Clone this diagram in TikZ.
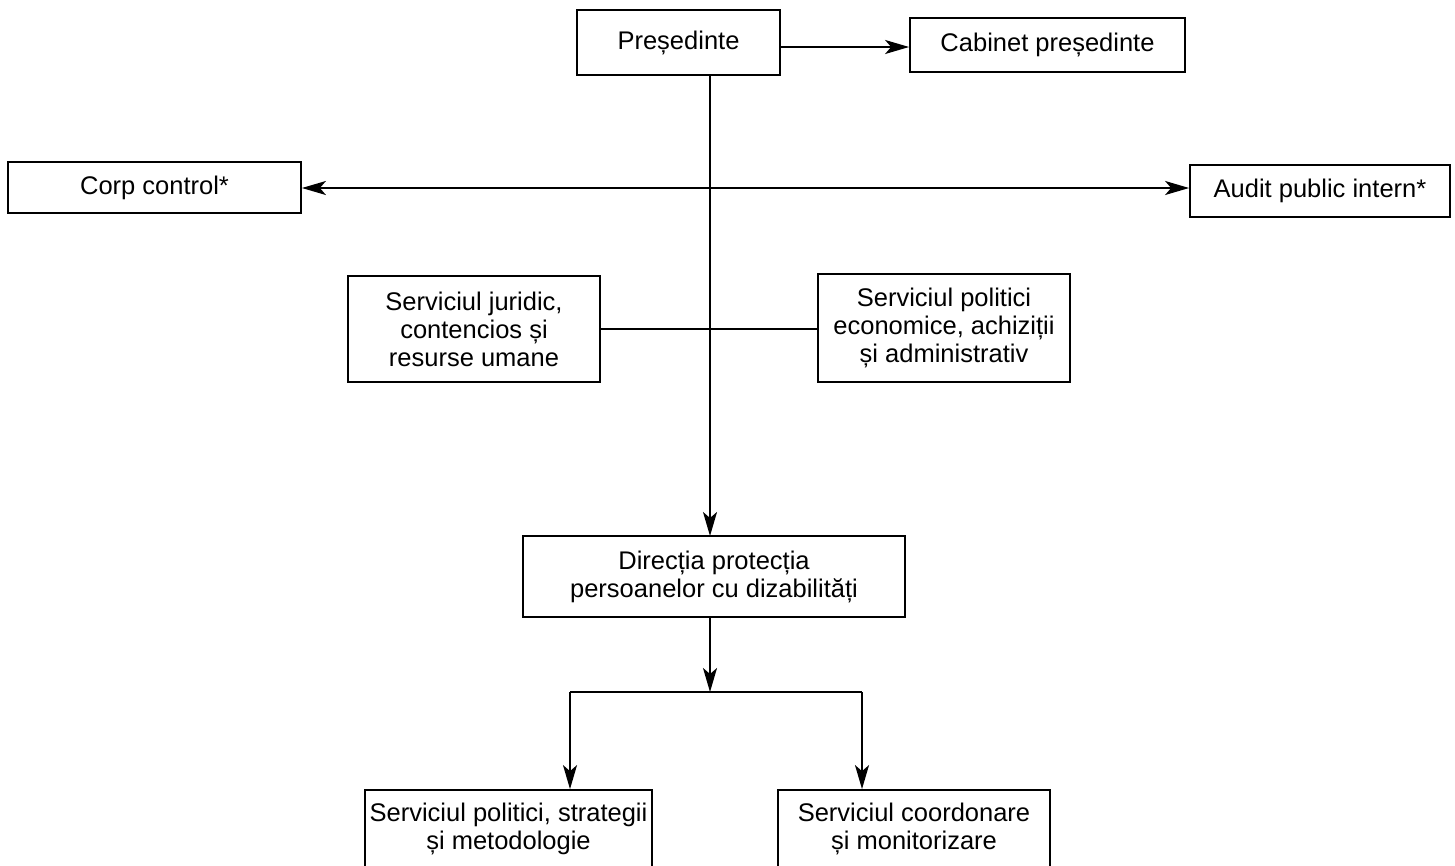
\documentclass[tikz,border=0pt]{standalone}
\usepackage{fontspec}
\setmainfont{Liberation Sans}
\usetikzlibrary{arrows.meta}
\tikzset{tip/.tip={Stealth[length=24pt,width=14pt,inset=6pt]}}
\begin{document}
\begin{tikzpicture}[x=1pt,y=-1pt,
  box/.style={draw,line width=1.8pt,align=center,inner sep=0pt,font=\fontsize{25.5}{28}\selectfont},
  conn/.style={line width=1.8pt},
  arr/.style={conn,-tip},
  darr/.style={conn,tip-tip}]
\useasboundingbox (0,0) rectangle (1455,865);
\clip (0,0) rectangle (1455,865);
\node[box,minimum width=203pt,minimum height=65pt] (pres) at (678.5,42.5) {Președinte};
\node[box,minimum width=275pt,minimum height=54pt] (cab) at (1047.5,45) {Cabinet președinte};
\node[box,minimum width=293pt,minimum height=51pt] (corp) at (154.5,187.5) {Corp control*};
\node[box,minimum width=260pt,minimum height=52pt] (audit) at (1320,191) {Audit public intern*};
\node[box,minimum width=252pt,minimum height=106pt] (jur) at (474,329) {Serviciul juridic,\\contencios și\\resurse umane};
\node[box,minimum width=252pt,minimum height=108pt] (econ) at (944,328) {Serviciul politici\\economice, achiziții\\și administrativ};
\node[box,minimum width=382pt,minimum height=81pt] (dir) at (714,576.5) {Direcția protecția\\persoanelor cu dizabilități};
\node[box,minimum width=287pt,minimum height=78pt] (spsm) at (508.5,829) {Serviciul politici, strategii\\și metodologie};
\node[box,minimum width=272pt,minimum height=78pt] (scm) at (914,829) {Serviciul coordonare\\și monitorizare};
\coordinate (ptop) at (710,75);
\coordinate (trunkend) at (710,536);
\coordinate (dbot) at (710,617);
\coordinate (junc) at (710,692);
\coordinate (jl) at (570,692);
\coordinate (jr) at (862,692);
\coordinate (cabin) at (780,47);
\coordinate (hline) at (0,188);
\draw[arr] (cabin) -- (cabin -| cab.west);
\draw[arr] (ptop) -- (trunkend);
\draw[darr] (hline -| corp.east) -- (hline -| audit.west);
\draw[conn] (jur.east) -- (jur.east -| econ.west);
\draw[arr] (dbot) -- (junc);
\draw[conn] (jl) -- (jr);
\draw[arr] (jl) -- (jl |- spsm.north);
\draw[arr] (jr) -- (jr |- scm.north);
\end{tikzpicture}
\end{document}
